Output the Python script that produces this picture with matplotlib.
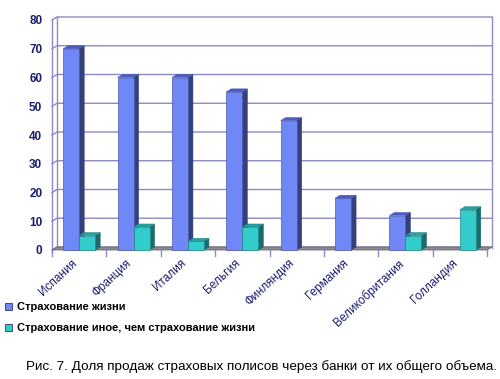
import matplotlib
matplotlib.use("Agg")
import matplotlib.pyplot as plt
from matplotlib.patches import Polygon, Patch
from matplotlib.transforms import ScaledTranslation

countries = ["Испания", "Франция", "Италия", "Бельгия", "Финляндия",
             "Германия", "Великобритания", "Голландия"]
life = [70, 60, 60, 55, 45, 18, 12, 0]
other = [5, 8, 3, 8, 0, 0, 5, 14]
series_names = ["Страхование жизни", "Страхование иное, чем страхование жизни"]
yticks = [0, 10, 20, 30, 40, 50, 60, 70, 80]
caption = "Рис. 7. Доля продаж страховых полисов через банки от их общего объема."

plt.rcParams['font.family'] = ['Liberation Sans', 'DejaVu Sans']

W, H = 500, 379
fig = plt.figure(figsize=(W / 100, H / 100), dpi=100)
# front plane: x from 52 to 487 px, y from 250 (0) to 20 (80) px
ax = fig.add_axes([52 / W, (H - 250) / H, (487 - 52) / W, 230 / H])
ax.set_xlim(-0.5, 7.5)
ax.set_ylim(0, 80)
for s in ax.spines.values():
    s.set_visible(False)

dx = 5 / 54.375   # depth offset in x data units
dy = 3 / 2.875    # depth offset in y data units
navy = "#1c1c6e"
gridc = "#8a8ac4"

# back wall gridlines + left wall slants
xl, xr = -0.5, 7.5
for v in yticks:
    ax.plot([xl, xl + dx, xr + dx], [v, v + dy, v + dy], color=gridc, lw=1.0,
            clip_on=False, zorder=1)
ax.plot([xl, xl], [-0.6, 80], color=gridc, lw=1.0, clip_on=False, zorder=1)
ax.plot([xl + dx, xl + dx], [dy, 80 + dy], color=gridc, lw=1.0, clip_on=False, zorder=1)
ax.plot([xr + dx, xr + dx], [dy - 0.3, 80 + dy], color=gridc, lw=1.0, clip_on=False, zorder=1)

# floor
floor = Polygon([(xl, 0), (xr, 0), (xr + dx, dy), (xl + dx, dy)],
                closed=True, facecolor="#8c8c8c", edgecolor="#6a6a6a", lw=0.6,
                clip_on=False, zorder=2)
ax.add_patch(floor)
for i in range(len(countries) + 1):
    xt = -0.5 + i
    ax.plot([xt, xt], [0, -2.2], color=gridc, lw=1.0, clip_on=False, zorder=2)

bw = 0.294
styles = [
    dict(front="#7088f6", side="#353f7c", top="#4c5cc4", edge="#4a58b0"),
    dict(front="#33cccc", side="#1d6a6a", top="#2a9f9f", edge="#218888"),
]


def bar3d(xc, h, st, z):
    if h <= 0:
        return
    x0, x1 = xc - bw / 2, xc + bw / 2
    side = Polygon([(x1, 0), (x1 + dx, dy), (x1 + dx, h + dy), (x1, h)], closed=True,
                   facecolor=st["side"], edgecolor=st["side"], lw=0.4, zorder=z,
                   clip_on=False)
    top = Polygon([(x0, h), (x1, h), (x1 + dx, h + dy), (x0 + dx, h + dy)], closed=True,
                  facecolor=st["top"], edgecolor=st["edge"], lw=0.4, zorder=z,
                  clip_on=False)
    ax.add_patch(side)
    ax.add_patch(top)


for i in range(len(countries)):
    z = 3 + i * 2
    for k, vals in enumerate([life, other]):
        xc = i + (k - 0.5) * bw
        bar3d(xc, vals[i], styles[k], z + k * 0.5)
        if vals[i] > 0:
            ax.bar(xc, vals[i], bw, color=styles[k]["front"],
                   edgecolor=styles[k]["edge"], lw=0.5, zorder=z + k * 0.5 + 0.2,
                   clip_on=False)

ax.set_yticks(yticks)
ax.set_yticklabels([str(v) for v in yticks], color=navy, fontsize=8.5,
                   fontweight="bold")
ax.tick_params(axis="y", length=0, pad=7)
ax.set_xticks(range(len(countries)))
ax.set_xticklabels(countries, rotation=43, ha="right", rotation_mode="anchor",
                   color=navy, fontsize=8.5)
ax.tick_params(axis="x", length=0, pad=6)
shift = ScaledTranslation(-8 / 72 * 0.72, 1 / 100, fig.dpi_scale_trans)
for lbl in ax.get_xticklabels():
    lbl.set_va("top")
    lbl.set_transform(lbl.get_transform() + ScaledTranslation(-0.08, 0.01, fig.dpi_scale_trans))

handles = [Patch(facecolor=styles[k]["front"], edgecolor="#333366", lw=0.6)
           for k in range(2)]
fig.legend(handles, series_names, loc="upper left",
           bbox_to_anchor=(3 / W, 1 - 300 / H),
           frameon=False, fontsize=8, handlelength=0.65, handleheight=0.65,
           handletextpad=0.4, labelspacing=1.0, borderaxespad=0, borderpad=0.2,
           prop=dict(size=8, weight="bold"))

fig.text(497 / W, 1 - 367 / H, caption, ha="right", va="center", fontsize=9.7,
         color="black")

fig.savefig("out.png", dpi=100)
